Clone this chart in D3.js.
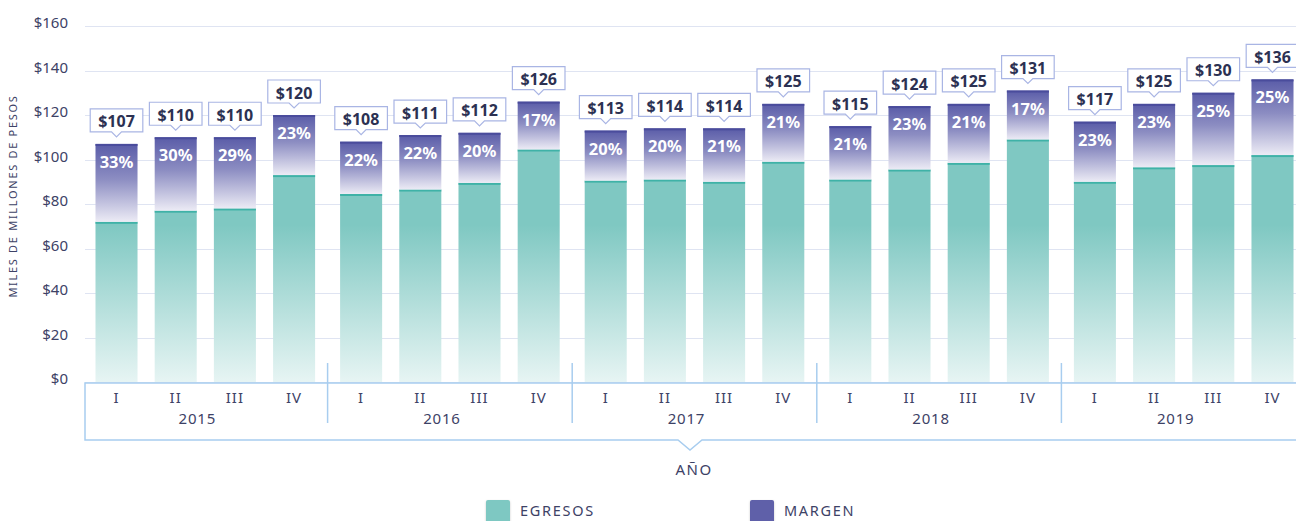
<!DOCTYPE html>
<html>
<head>
<meta charset="utf-8">
<script src="https://cdn.jsdelivr.net/npm/d3@7"></script>
<style>
  html, body { margin: 0; padding: 0; background: #ffffff; }
  svg { display: block; font-family: "Noto Sans", "Open Sans", sans-serif; }
</style>
</head>
<body>
<svg id="chart" width="1296" height="521"></svg>
<script>
// ---- data ----
const years = ["2015", "2016", "2017", "2018", "2019"];
const quarters = ["I", "II", "III", "IV"];
const totals = [107, 110, 110, 120, 108, 111, 112, 126, 113, 114, 114, 125, 115, 124, 125, 131, 117, 125, 130, 136];
const egresos = [72, 77, 78, 93, 84.5, 86.5, 89.5, 104.5, 90.5, 91, 90, 99, 91, 95.5, 98.5, 109, 90, 96.5, 97.5, 102];
const pctLabels = ["33%", "30%", "29%", "23%", "22%", "22%", "20%", "17%", "20%", "20%", "21%", "21%", "21%", "23%", "21%", "17%", "23%", "23%", "25%", "25%"];
const yTicks = [0, 20, 40, 60, 80, 100, 120, 140, 160];
const seriesNames = ["EGRESOS", "MARGEN"];
const axisTitle = "AÑO";
const yTitle = "MILES DE MILLONES DE PESOS";

// ---- build table ----
const rows = [];
years.forEach((yr, yi) => quarters.forEach((q, qi) => {
  const i = yi * 4 + qi;
  rows.push({ year: yr, q: q, i: i, egresos: egresos[i], margen: totals[i] - egresos[i], total: totals[i], pct: pctLabels[i] });
}));
const stacked = d3.stack().keys(["egresos", "margen"])(rows);

const svg = d3.select("#chart");
const textColor = "#3d4266";
const boxColor = "#a8cdef";

const y = d3.scaleLinear().domain([0, 160]).range([382, 26]);
const x0 = d3.scaleBand().domain(years).range([83, 1306]).paddingInner(0.032).paddingOuter(0.016);
const x1 = d3.scaleBand().domain(quarters).range([0, x0.bandwidth()]).paddingInner(0.29).paddingOuter(0.145);
const xc = d => x0(d.year) + x1(d.q);

// ---- gradients ----
const defs = svg.append("defs");
const gT = defs.append("linearGradient").attr("id", "gTeal")
  .attr("gradientUnits", "userSpaceOnUse").attr("x1", 0).attr("x2", 0).attr("y1", 225).attr("y2", 384);
gT.append("stop").attr("offset", 0).attr("stop-color", "#7fc8c2");
gT.append("stop").attr("offset", 1).attr("stop-color", "#e8f5f4");
const gP = defs.append("linearGradient").attr("id", "gPurple")
  .attr("x1", 0).attr("x2", 0).attr("y1", 0).attr("y2", 1);
gP.append("stop").attr("offset", 0).attr("stop-color", "#5a5ca8");
gP.append("stop").attr("offset", 0.45).attr("stop-color", "#8c8dc2");
gP.append("stop").attr("offset", 1).attr("stop-color", "#ecebf5");
const shadow = defs.append("filter").attr("id", "sh").attr("x", "-30%").attr("y", "-30%").attr("width", "160%").attr("height", "160%");
shadow.append("feDropShadow").attr("dx", 0).attr("dy", 1).attr("stdDeviation", 1.2).attr("flood-color", "#000").attr("flood-opacity", 0.2);

// ---- grid ----
svg.append("g").selectAll("line").data(yTicks).join("line")
  .attr("x1", 85).attr("x2", 1296)
  .attr("y1", d => Math.round(y(d)) + 0.5).attr("y2", d => Math.round(y(d)) + 0.5)
  .attr("stroke", "#dfe4f2").attr("stroke-width", 1);

// y axis labels
svg.append("g").selectAll("text").data(yTicks).join("text")
  .attr("x", 68).attr("y", d => y(d) + 2)
  .attr("text-anchor", "end").attr("font-size", 15).attr("fill", textColor)
  .text(d => "$" + d);

// y title
svg.append("text")
  .attr("transform", "translate(17,196) rotate(-90)")
  .attr("text-anchor", "middle").attr("font-size", 11).attr("letter-spacing", 1.7)
  .attr("fill", textColor).text(yTitle);

// ---- bars ----
const barG = svg.append("g");
// egresos
barG.selectAll("rect.eg").data(stacked[0]).join("rect").attr("class", "eg")
  .attr("x", (d, i) => xc(rows[i])).attr("width", x1.bandwidth())
  .attr("y", d => y(d[1])).attr("height", d => y(d[0]) - y(d[1]))
  .attr("fill", "url(#gTeal)");
barG.selectAll("rect.egTop").data(stacked[0]).join("rect").attr("class", "egTop")
  .attr("x", (d, i) => xc(rows[i])).attr("width", x1.bandwidth())
  .attr("y", d => y(d[1])).attr("height", 2).attr("fill", "#3fb2a7");
// margen
barG.selectAll("rect.mg").data(stacked[1]).join("rect").attr("class", "mg")
  .attr("x", (d, i) => xc(rows[i])).attr("width", x1.bandwidth())
  .attr("y", d => y(d[1])).attr("height", d => y(d[0]) - y(d[1]))
  .attr("fill", "url(#gPurple)");
barG.selectAll("rect.mgTop").data(stacked[1]).join("rect").attr("class", "mgTop")
  .attr("x", (d, i) => xc(rows[i])).attr("width", x1.bandwidth())
  .attr("y", d => y(d[1])).attr("height", 2).attr("fill", "#4a4c9c");

// percentage labels
barG.selectAll("text.pct").data(rows).join("text").attr("class", "pct")
  .attr("x", d => xc(d) + x1.bandwidth() / 2).attr("y", d => y(d.total) + 24)
  .attr("text-anchor", "middle").attr("font-size", 16.5).attr("font-weight", 700)
  .attr("fill", "#ffffff").text(d => d.pct);

// callouts
const callG = svg.append("g");
rows.forEach(d => {
  const cx = xc(d) + x1.bandwidth() / 2;
  const top = y(d.total);
  const g = callG.append("g");
  const t = g.append("text").attr("x", cx).attr("y", top - 16.5)
    .attr("text-anchor", "middle").attr("font-size", 16).attr("font-weight", 700)
    .attr("fill", "#2c3152").text("$" + d.total);
  const w = t.node().getComputedTextLength() + 16;
  const bx0 = cx - w / 2, bx1 = cx + w / 2, by0 = top - 35, by1 = top - 12;
  const p = d3.path();
  p.moveTo(bx0, by0); p.lineTo(bx1, by0); p.lineTo(bx1, by1);
  p.lineTo(cx + 5, by1); p.lineTo(cx, by1 + 5); p.lineTo(cx - 5, by1);
  p.lineTo(bx0, by1); p.closePath();
  g.insert("path", "text").attr("d", p.toString())
    .attr("fill", "#ffffff").attr("stroke", "#a9b5e4").attr("stroke-width", 1.2);
});

// ---- x axis box ----
const axG = svg.append("g");
const boxTop = 383, boxBot = 440, notchX = 690;
const bp = d3.path();
bp.moveTo(1302, boxTop); bp.lineTo(85, boxTop); bp.lineTo(85, boxBot);
bp.lineTo(notchX - 12, boxBot); bp.lineTo(notchX, boxBot + 10); bp.lineTo(notchX + 12, boxBot); bp.lineTo(1302, boxBot);
axG.append("path").attr("d", bp.toString()).attr("fill", "none").attr("stroke", boxColor).attr("stroke-width", 1.5);
// separators between years
const seps = years.slice(1).map(yr => x0(yr) - x0.step() * x0.paddingInner() / 2);
axG.selectAll("line.sep").data(seps).join("line").attr("class", "sep")
  .attr("x1", d => d).attr("x2", d => d).attr("y1", 363).attr("y2", 423)
  .attr("stroke", boxColor).attr("stroke-width", 1.5);
// quarter labels
axG.selectAll("text.q").data(rows).join("text").attr("class", "q")
  .attr("x", d => xc(d) + x1.bandwidth() / 2).attr("y", 403)
  .attr("text-anchor", "middle").attr("font-size", 15).attr("letter-spacing", 1)
  .attr("fill", textColor).text(d => d.q);
// year labels
axG.selectAll("text.yr").data(years).join("text").attr("class", "yr")
  .attr("x", d => x0(d) + x0.bandwidth() / 2 - 8).attr("y", 424)
  .attr("text-anchor", "middle").attr("font-size", 15).attr("letter-spacing", 0.8)
  .attr("fill", textColor).text(d => d);
// axis title
axG.append("text").attr("x", 694).attr("y", 475).attr("text-anchor", "middle")
  .attr("font-size", 15).attr("letter-spacing", 1.5).attr("fill", textColor).text(axisTitle);

// ---- legend ----
const legColors = ["#7ec8c2", "#5f60a9"];
const legX = [486, 750];
const lg = svg.append("g");
seriesNames.forEach((n, i) => {
  lg.append("rect").attr("x", legX[i]).attr("y", 500).attr("width", 24).attr("height", 24)
    .attr("rx", 2).attr("fill", legColors[i]).attr("filter", "url(#sh)");
  lg.append("text").attr("x", legX[i] + 34).attr("y", 516)
    .attr("font-size", 14.5).attr("letter-spacing", 1.7).attr("fill", textColor).text(n);
});
</script>
</body>
</html>
